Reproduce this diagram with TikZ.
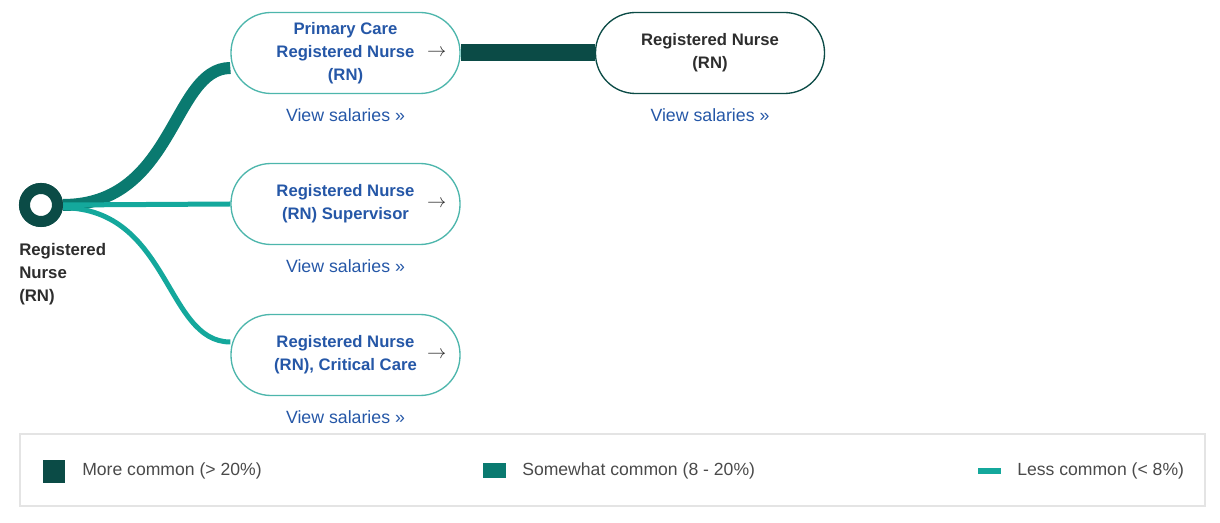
\documentclass[tikz,border=0pt]{standalone}
\usepackage{fontspec}
\setmainfont{Liberation Sans}
\usepackage{tikz}
\usetikzlibrary{positioning}
\usetikzlibrary{calc}
\definecolor{darkteal}{HTML}{0B4B46}
\definecolor{midteal}{HTML}{0A7A70}
\definecolor{lightteal}{HTML}{14A89C}
\definecolor{boxline}{HTML}{4DB6AC}
\definecolor{linkblue}{HTML}{2557A7}
\definecolor{inktext}{HTML}{2D2D2D}
\definecolor{legendtext}{HTML}{4A4A4A}
\definecolor{framegray}{HTML}{E4E4E4}
\tikzstyle{jobbox}=[rectangle,rounded corners=30pt,draw=boxline,line width=1pt,fill=white,minimum width=171.75pt,minimum height=60.75pt,inner sep=0pt,align=center,font=\fontsize{12.5}{17.25}\selectfont\bfseries,text=linkblue]
\tikzstyle{endbox}=[jobbox,draw=darkteal,text=inktext]
\tikzstyle{salary}=[font=\fontsize{13.3}{15}\selectfont,text=linkblue,inner sep=0pt]
\tikzstyle{goarrow}=[font=\fontsize{15}{15}\selectfont,text=inktext,inner sep=0pt]
\tikzstyle{startring}=[circle,draw=darkteal,line width=8.25pt,fill=white,minimum size=24.75pt,inner sep=0pt]
\tikzstyle{startlabel}=[align=left,font=\fontsize{12.6}{17.25}\selectfont\bfseries,text=inktext,inner sep=0pt]
\tikzstyle{bigedge}=[draw,darkteal,line width=12.75pt]
\tikzstyle{midedge}=[draw,midteal,line width=9pt]
\tikzstyle{smalledge}=[draw,lightteal,line width=3.75pt]
\tikzstyle{swatch}=[rectangle,inner sep=0pt,minimum width=17pt]
\tikzstyle{legendlabel}=[anchor=west,font=\fontsize{13.2}{15}\selectfont,text=legendtext,inner sep=0pt]

\begin{document}
\begin{tikzpicture}[x=0.75pt,y=-0.75pt]
  \useasboundingbox (0,0) rectangle (1220,523);

  % career steps
  \foreach \pos/\name/\txt in {{(345.5,53)/prim/{Primary Care\\Registered Nurse\\(RN)}}, {(345.5,204)/super/{Registered Nurse\\(RN) Supervisor}}, {(345.5,355)/crit/{Registered Nurse\\(RN), Critical Care}}}
  {
    \node[jobbox] (\name) at \pos {\txt};
    \node[goarrow] (\name-arr) at ($(\name.east)+(-24,0)$) {$\rightarrow$};
    \node[salary] (\name-pay) at ($(\name.south)+(0,21)$) {View salaries »};
  }
  \node[endbox] (rn) at (710,53) {Registered Nurse\\(RN)};
  \node[salary] (rn-pay) at ($(rn.south)+(0,21)$) {View salaries »};

  % start point
  \node[startring] (start) at (41,205) {};
  \node[startlabel,anchor=west] (startlbl) at (19,274) {Registered\\Nurse\\(RN)};

  % paths
  \path[bigedge] (prim.east) -- (rn.west);
  \path[midedge] (start.east) .. controls (175,205) and (172,68) .. ([yshift=-11.25pt]prim.west);
  \path[smalledge] (start.east) -- (super.west);
  \path[smalledge] ([yshift=-2pt]start.east) .. controls (170,209) and (165,342) .. ([yshift=9.75pt]crit.west);
  \node[startring] at (start) {};

  % legend
  \node[draw=framegray,line width=1.5pt,minimum width=888.75pt,minimum height=53.25pt,inner sep=0pt] (legend) at (612,470) {};
  \node[swatch,fill=darkteal,minimum height=17pt] (sw1) at (54,471.5) {};
  \node[legendlabel] (lg1) at (82,471) {More common (> 20\%)};
  \node[swatch,fill=midteal,minimum height=11.25pt] (sw2) at (494.5,470.5) {};
  \node[legendlabel] (lg2) at (522,471) {Somewhat common (8 - 20\%)};
  \node[swatch,fill=lightteal,minimum height=4.5pt] (sw3) at (989.5,471) {};
  \node[legendlabel] (lg3) at (1017,471) {Less common (< 8\%)};

\end{tikzpicture}
\end{document}
